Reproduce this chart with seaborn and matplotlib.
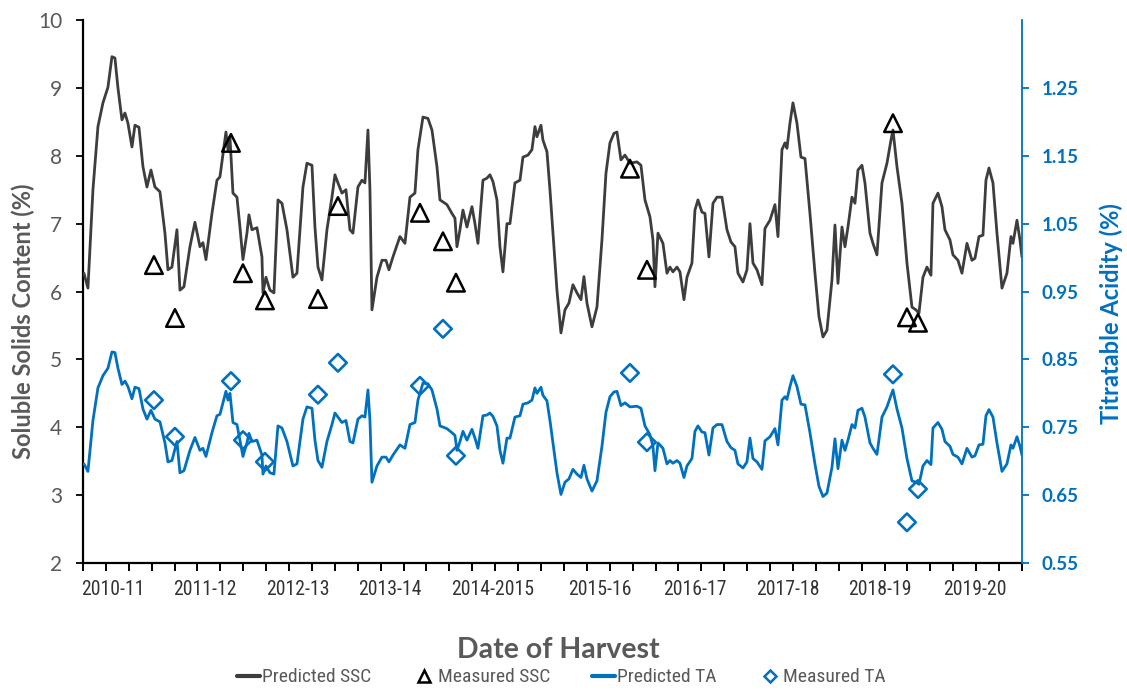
import numpy as np
import pandas as pd
import matplotlib
matplotlib.use("Agg")
import matplotlib.pyplot as plt
from matplotlib.lines import Line2D
from matplotlib import font_manager as fm
import seaborn as sns

# ---------------- data ----------------
seasons = ["2010-11", "2011-12", "2012-13", "2013-14", "2014-2015",
           "2015-16", "2016-17", "2017-18", "2018-19", "2019-20"]
season_pos = [30, 122, 215, 307, 410, 517, 612, 705, 797, 892]

t = [1, 5, 10, 15, 20, 25, 29, 32, 35, 39,
     42, 45, 49, 52, 56, 60, 64, 68, 72, 77,
     82, 85, 89, 94, 97, 101, 107, 112, 117, 120,
     123, 129, 134, 137, 143, 145, 147, 150, 154, 157,
     160, 164, 166, 169, 174, 179, 180, 183, 187, 191,
     195, 199, 204, 210, 214, 220, 224, 229, 232, 235,
     239, 244, 249, 252, 255, 259, 263, 267, 270, 275,
     279, 282, 285, 287, 289, 294, 299, 303, 306, 310,
     317, 322, 327, 332, 335, 340, 345, 349, 354, 357,
     364, 369, 372, 374, 377, 380, 384, 389, 392, 395,
     400, 404, 407, 410, 414, 417, 420, 424, 427, 432,
     437, 440, 445, 449, 452, 454, 458, 460, 464, 467,
     470, 474, 478, 482, 486, 490, 494, 498, 501, 504,
     509, 514, 519, 523, 527, 531, 534, 538, 542, 547,
     554, 558, 562, 567, 570, 572, 575, 580, 584, 587,
     590, 594, 597, 601, 604, 609, 612, 615, 619, 622,
     626, 630, 634, 639, 644, 648, 652, 655, 660, 664,
     667, 670, 674, 679, 682, 687, 692, 695, 699, 702,
     704, 707, 710, 714, 718, 722, 727, 732, 736, 740,
     744, 749, 752, 755, 759, 762, 765, 769, 772, 775,
     779, 782, 787, 790, 794, 799, 804, 808, 810, 814,
     819, 824, 829, 833, 836, 840, 844, 848, 850, 855,
     859, 862, 867, 870, 875, 879, 884, 889, 892, 896,
     900, 903, 906, 910, 914, 919, 924, 928, 930, 934,
     937, 939]

predicted_ssc = [6.27, 6.05, 7.50, 8.43, 8.78, 9.01, 9.46, 9.44, 9.00, 8.53,
                 8.63, 8.48, 8.13, 8.45, 8.42, 7.84, 7.54, 7.79, 7.54, 7.47,
                 6.86, 6.32, 6.36, 6.91, 6.02, 6.07, 6.66, 7.02, 6.66, 6.72,
                 6.47, 7.15, 7.64, 7.69, 8.35, 8.09, 8.28, 7.45, 7.39, 6.95,
                 6.47, 6.86, 7.13, 6.91, 6.94, 6.51, 5.98, 6.21, 6.02, 5.98,
                 7.35, 7.30, 6.91, 6.21, 6.27, 7.54, 7.89, 7.86, 6.95, 6.36,
                 6.17, 6.91, 7.39, 7.72, 7.60, 7.45, 7.50, 6.91, 6.86, 7.54,
                 7.64, 7.60, 8.38, 7.50, 5.73, 6.21, 6.46, 6.46, 6.32, 6.51,
                 6.81, 6.71, 7.39, 7.45, 8.09, 8.57, 8.55, 8.38, 7.84, 7.35,
                 7.28, 7.15, 7.08, 6.66, 6.91, 7.20, 6.95, 7.25, 7.00, 6.71,
                 7.64, 7.67, 7.72, 7.62, 7.35, 6.66, 6.29, 7.00, 7.00, 7.60,
                 7.64, 7.98, 8.01, 8.09, 8.43, 8.28, 8.45, 8.23, 8.06, 7.50,
                 6.86, 6.02, 5.39, 5.73, 5.83, 6.10, 5.98, 5.88, 6.22, 5.83,
                 5.48, 5.77, 6.76, 7.74, 8.19, 8.33, 8.35, 7.94, 8.01, 7.89,
                 7.91, 7.86, 7.35, 7.10, 6.76, 6.07, 6.86, 6.71, 6.27, 6.36,
                 6.29, 6.36, 6.29, 5.88, 6.21, 6.42, 7.20, 7.35, 7.17, 7.15,
                 6.51, 7.30, 7.39, 7.39, 6.91, 6.73, 6.66, 6.27, 6.14, 6.32,
                 7.00, 6.42, 6.32, 6.10, 6.93, 7.05, 7.28, 6.81, 8.09, 8.19,
                 8.11, 8.48, 8.78, 8.48, 7.98, 7.96, 7.15, 6.27, 5.63, 5.33,
                 5.43, 6.17, 6.98, 6.12, 6.95, 6.66, 6.95, 7.39, 7.30, 7.79,
                 7.86, 7.60, 6.86, 6.71, 6.54, 7.60, 7.89, 8.23, 8.38, 7.84,
                 7.30, 6.42, 5.77, 5.73, 5.68, 6.21, 6.36, 6.24, 7.30, 7.45,
                 7.25, 6.91, 6.76, 6.54, 6.46, 6.27, 6.71, 6.46, 6.49, 6.81,
                 6.83, 7.64, 7.82, 7.60, 6.86, 6.05, 6.27, 6.81, 6.71, 7.05,
                 6.76, 6.51]

predicted_ta = [0.696, 0.685, 0.760, 0.808, 0.826, 0.837, 0.861, 0.860, 0.837, 0.813,
                0.818, 0.810, 0.792, 0.809, 0.807, 0.777, 0.762, 0.775, 0.762, 0.758,
                0.727, 0.699, 0.701, 0.729, 0.683, 0.686, 0.716, 0.735, 0.716, 0.719,
                0.707, 0.742, 0.767, 0.769, 0.803, 0.790, 0.800, 0.757, 0.754, 0.731,
                0.707, 0.727, 0.741, 0.729, 0.731, 0.709, 0.681, 0.693, 0.683, 0.681,
                0.752, 0.749, 0.729, 0.693, 0.696, 0.762, 0.780, 0.778, 0.731, 0.701,
                0.691, 0.729, 0.754, 0.771, 0.765, 0.757, 0.760, 0.729, 0.727, 0.762,
                0.767, 0.765, 0.805, 0.760, 0.669, 0.693, 0.706, 0.706, 0.699, 0.709,
                0.724, 0.719, 0.754, 0.757, 0.790, 0.815, 0.814, 0.805, 0.777, 0.752,
                0.748, 0.742, 0.738, 0.716, 0.729, 0.744, 0.731, 0.747, 0.734, 0.719,
                0.767, 0.768, 0.771, 0.766, 0.752, 0.716, 0.697, 0.734, 0.734, 0.765,
                0.767, 0.784, 0.786, 0.790, 0.808, 0.800, 0.809, 0.797, 0.789, 0.760,
                0.727, 0.683, 0.651, 0.669, 0.674, 0.688, 0.681, 0.676, 0.694, 0.674,
                0.656, 0.671, 0.722, 0.772, 0.795, 0.802, 0.803, 0.782, 0.786, 0.780,
                0.781, 0.778, 0.752, 0.739, 0.722, 0.686, 0.727, 0.719, 0.696, 0.701,
                0.697, 0.701, 0.697, 0.676, 0.693, 0.704, 0.744, 0.752, 0.743, 0.742,
                0.709, 0.749, 0.754, 0.754, 0.729, 0.720, 0.716, 0.696, 0.690, 0.699,
                0.734, 0.704, 0.699, 0.688, 0.730, 0.736, 0.748, 0.724, 0.790, 0.795,
                0.791, 0.810, 0.826, 0.810, 0.784, 0.783, 0.742, 0.696, 0.663, 0.648,
                0.653, 0.691, 0.733, 0.689, 0.731, 0.716, 0.731, 0.754, 0.749, 0.775,
                0.778, 0.765, 0.727, 0.719, 0.710, 0.765, 0.780, 0.797, 0.805, 0.777,
                0.749, 0.704, 0.671, 0.669, 0.666, 0.693, 0.701, 0.695, 0.749, 0.757,
                0.747, 0.729, 0.722, 0.710, 0.706, 0.696, 0.719, 0.706, 0.708, 0.724,
                0.725, 0.767, 0.776, 0.765, 0.727, 0.685, 0.696, 0.724, 0.719, 0.736,
                0.722, 0.709]

measured_t = [71, 92, 148, 160, 182, 235, 255, 337, 360, 373, 547, 564, 810, 824, 835]
measured_ssc = [6.39, 5.61, 8.19, 6.27, 5.87, 5.89, 7.26, 7.16, 6.74, 6.13,
                7.81, 6.32, 8.48, 5.62, 5.54]
measured_ta = [0.790, 0.736, 0.818, 0.731, 0.699, 0.798, 0.845, 0.811, 0.895, 0.708,
               0.830, 0.728, 0.828, 0.610, 0.659]

assert len(t) == len(predicted_ssc) == len(predicted_ta)

pred = pd.DataFrame({"t": t, "ssc": predicted_ssc, "ta": predicted_ta})
meas = pd.DataFrame({"t": measured_t, "ssc": measured_ssc, "ta": measured_ta})

# ---------------- style ----------------
sns.set_theme(style="white", rc={"xtick.bottom": True, "ytick.left": True,
                                 "ytick.right": True})
plt.rcParams["font.family"] = ["Lato", "DejaVu Sans"]

# pick a narrow face if one is installed (reference uses a condensed Office font)
_names = {f.name for f in fm.fontManager.ttflist}
_stretch = {(f.name, f.stretch) for f in fm.fontManager.ttflist}
NARROW = None
NARROW_STRETCH = "normal"
for cand in ["Liberation Sans Narrow", "Roboto Condensed", "Open Sans Condensed",
             "Noto Sans Condensed", "Arial Narrow"]:
    if cand in _names:
        NARROW = cand
        break
if NARROW is None:
    for nm, st in _stretch:
        if nm in ("DejaVu Sans", "Noto Sans", "Open Sans") and st in ("condensed", "semi-condensed", 700, 600, "extra-condensed"):
            NARROW = nm
            NARROW_STRETCH = "condensed"
            break
HAVE_NARROW = NARROW is not None
TICKFONT = [NARROW, "DejaVu Sans"] if HAVE_NARROW else ["Lato", "DejaVu Sans"]

GRAY = "#595959"
LINE_BLACK = "#3d3d3d"
BLUE = "#0070C0"

fig = plt.figure(figsize=(11.27, 6.98), dpi=100)
ax = fig.add_axes([0.0736, 0.1934, 0.8332, 0.7779])
ax2 = ax.twinx()

sns.lineplot(data=pred, x="t", y="ssc", ax=ax, color=LINE_BLACK, linewidth=2.0,
             estimator=None, sort=False, zorder=3)
sns.scatterplot(data=meas, x="t", y="ssc", ax=ax, marker="^", s=160,
                facecolor="none", edgecolor="black", linewidth=1.8, zorder=4)

sns.lineplot(data=pred, x="t", y="ta", ax=ax2, color=BLUE, linewidth=2.0,
             estimator=None, sort=False, zorder=3)
sns.scatterplot(data=meas, x="t", y="ta", ax=ax2, marker="D", s=80,
                facecolor="none", edgecolor=BLUE, linewidth=1.9, zorder=4)

# axes limits
ax.set_xlim(0, 939)
ax.set_ylim(2, 10)
ax2.set_ylim(0.55, 1.35)

# spines
for a in (ax, ax2):
    a.spines["top"].set_visible(False)
ax.spines["right"].set_visible(False)
ax.spines["left"].set_color("black")
ax.spines["bottom"].set_color("black")
ax.spines["left"].set_linewidth(1.6)
ax.spines["bottom"].set_linewidth(1.6)
ax2.spines["left"].set_visible(False)
ax2.spines["bottom"].set_visible(False)
ax2.spines["right"].set_color(BLUE)
ax2.spines["right"].set_linewidth(1.3)

# left ticks
ax.set_yticks(range(2, 11))
ax.tick_params(axis="y", which="major", direction="out", length=5, width=1.3,
               color="black", labelsize=15, labelcolor=GRAY, pad=10,
               left=True, right=False)
# bottom ticks
ax.set_xticks(np.linspace(0, 939, 42), minor=True)
ax.set_xticks(season_pos)
ax.set_xticklabels(seasons)
ax.tick_params(axis="x", which="major", length=0, labelcolor="#333333", pad=12,
               bottom=True)
ax.tick_params(axis="x", which="minor", direction="out", length=6, width=1.4,
               color="black", bottom=True)
ax.xaxis.remove_overlapping_locs = False
for lab in ax.get_xticklabels():
    lab.set_family(TICKFONT)
    if HAVE_NARROW:
        lab.set_stretch(NARROW_STRETCH)
        lab.set_fontsize(14.2)
    else:
        lab.set_fontsize(12.5)

# right ticks
ax2.set_yticks([0.55, 0.65, 0.75, 0.85, 0.95, 1.05, 1.15, 1.25])
ax2.set_yticklabels(["0.55", "0.65", "0.75", "0.85", "0.95", "1.05", "1.15", "1.25"])
ax2.tick_params(axis="y", direction="out", length=5, width=1.3, color=BLUE,
                labelsize=13.5, labelcolor=BLUE, pad=9, right=True, left=False)
for lab in ax2.get_yticklabels():
    lab.set_fontweight("bold")

# force tick marks to be drawn
for tk in ax.xaxis.get_minor_ticks():
    tk.tick1line.set_visible(True)
    tk.tick1line.set_color("black")
    tk.tick1line.set_markersize(6)
    tk.tick1line.set_markeredgewidth(1.4)
for tk in ax.yaxis.get_major_ticks():
    tk.tick1line.set_visible(True)
    tk.tick1line.set_color("black")
    tk.tick1line.set_markersize(5)
    tk.tick1line.set_markeredgewidth(1.3)
for tk in ax2.yaxis.get_major_ticks():
    tk.tick2line.set_visible(True)
    tk.tick2line.set_color(BLUE)
    tk.tick2line.set_markersize(5)
    tk.tick2line.set_markeredgewidth(1.3)

ax.set_xlabel("Date of Harvest", fontsize=20.5, fontweight="bold", color=GRAY)
ax.xaxis.set_label_coords(0.506, -0.137)
ax.set_ylabel("Soluble Solids Content (%)", fontsize=17, fontweight="bold", color=GRAY)
ax.yaxis.set_label_coords(-0.051, 0.445)
ax2.set_ylabel("Titratable Acidity (%)", fontsize=17, fontweight="bold", color=BLUE,
               rotation=90)
ax2.yaxis.set_label_coords(1.082, 0.46)

ax.grid(False)
ax2.grid(False)

# legend
handles = [
    Line2D([0], [0], color=LINE_BLACK, lw=3),
    Line2D([0], [0], marker="^", color="none", markeredgecolor="black",
           markerfacecolor="none", markersize=9, markeredgewidth=1.8),
    Line2D([0], [0], color=BLUE, lw=3),
    Line2D([0], [0], marker="D", color="none", markeredgecolor=BLUE,
           markerfacecolor="none", markersize=6.5, markeredgewidth=1.8),
]
labels = ["Predicted SSC", "Measured SSC", "Predicted TA", "Measured TA"]
leg = fig.legend(handles, labels, loc="lower center", bbox_to_anchor=(0.498, -0.006),
                 ncol=4, frameon=False, fontsize=13, handlelength=1.3,
                 handletextpad=0.1, columnspacing=2.3)
for txt in leg.get_texts():
    txt.set_color(GRAY)
    txt.set_family(TICKFONT)
    if HAVE_NARROW:
        txt.set_stretch(NARROW_STRETCH)
        txt.set_fontsize(14)

fig.savefig("out.png", dpi=100)
